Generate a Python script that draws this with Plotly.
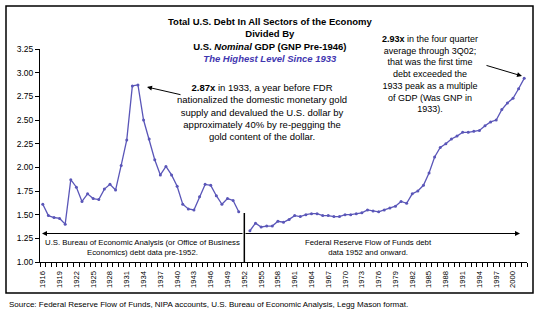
import plotly.graph_objects as go

# ---- data ----
years_bea = list(range(1916, 1952))
ratio_bea = [1.61, 1.49, 1.47, 1.46, 1.40, 1.87, 1.79, 1.64, 1.72, 1.67,
             1.66, 1.77, 1.82, 1.76, 2.02, 2.29, 2.86, 2.87, 2.50, 2.30,
             2.08, 1.92, 2.01, 1.92, 1.80, 1.61, 1.56, 1.55, 1.69, 1.82,
             1.81, 1.70, 1.61, 1.67, 1.65, 1.53]
years_fof = list(range(1953, 2003))
ratio_fof = [1.33, 1.41, 1.37, 1.38, 1.38, 1.43, 1.42, 1.45, 1.49, 1.48,
             1.50, 1.51, 1.51, 1.49, 1.49, 1.48, 1.48, 1.50, 1.50, 1.51,
             1.52, 1.55, 1.54, 1.53, 1.55, 1.57, 1.59, 1.64, 1.62, 1.72,
             1.75, 1.81, 1.94, 2.11, 2.21, 2.25, 2.30, 2.33, 2.37, 2.37,
             2.38, 2.39, 2.44, 2.48, 2.50, 2.61, 2.68, 2.73, 2.83, 2.94]
assert len(years_bea) == len(ratio_bea) and len(years_fof) == len(ratio_fof)
y_ticks = [1.00, 1.25, 1.50, 1.75, 2.00, 2.25, 2.50, 2.75, 3.00, 3.25]
x_label_years = list(range(1916, 2001, 3))
split_year = 1952

W, H = 541, 319
L, R, T, B = 40, 527, 49, 262
FONT = "Arial, Liberation Sans, sans-serif"
LINE_C = "#5a56b8"


def xp(px):
    return (px - L) / (R - L)


def yp(py):
    return (B - py) / (B - T)


fig = go.Figure()
for xs, ys in [(years_bea, ratio_bea), (years_fof, ratio_fof)]:
    fig.add_trace(go.Scatter(x=xs, y=ys, mode="lines+markers",
                             line=dict(color=LINE_C, width=1.3),
                             marker=dict(size=3, color=LINE_C),
                             showlegend=False, hoverinfo="skip"))

ann = []
ann.append(dict(xref="paper", yref="paper", x=xp(270), y=yp(40),
                xanchor="center", yanchor="middle", showarrow=False,
                font=dict(family=FONT, size=9.5, color="black"),
                text="<b>Total U.S. Debt In All Sectors of the Economy</b><br>"
                     "<b>Divided By</b><br>"
                     "<b>U.S. <i>Nominal</i> GDP (GNP Pre-1946)</b><br>"
                     "<span style='color:#3f36b0'><b><i>The Highest Level Since 1933</i></b></span>"))
ann.append(dict(xref="paper", yref="paper", x=xp(262), y=yp(111.7),
                xanchor="center", yanchor="middle", showarrow=False,
                font=dict(family=FONT, size=9.5, color="black"),
                text="<b>2.87x</b> in 1933, a year before FDR<br>"
                     "nationalized the domestic monetary gold<br>"
                     "supply and devalued the U.S. dollar by<br>"
                     "approximately 40% by re-pegging the<br>"
                     "gold content of the dollar."))
ann.append(dict(xref="paper", yref="paper", x=xp(430), y=yp(74.2),
                xanchor="center", yanchor="middle", showarrow=False,
                font=dict(family=FONT, size=9, color="black"),
                text="<b>2.93x</b> in the four quarter<br>"
                     "average through 3Q02;<br>"
                     "that was the first time<br>"
                     "debt exceeded the<br>"
                     "1933 peak as a multiple<br>"
                     "of GDP (Was GNP in<br>"
                     "1933)."))
ann.append(dict(xref="paper", yref="paper", x=xp(142), y=yp(247),
                xanchor="center", yanchor="middle", showarrow=False,
                font=dict(family=FONT, size=7.8, color="black"),
                text="U.S. Bureau of Economic Analysis (or Office of Business<br>"
                     "Economics) debt data pre-1952."))
ann.append(dict(xref="paper", yref="paper", x=xp(368), y=yp(247),
                xanchor="center", yanchor="middle", showarrow=False,
                font=dict(family=FONT, size=7.8, color="black"),
                text="Federal Reserve Flow of Funds debt<br>"
                     "data 1952 and onward."))
ann.append(dict(xref="paper", yref="paper", x=xp(7), y=yp(304),
                xanchor="left", yanchor="middle", showarrow=False,
                font=dict(family=FONT, size=8, color="black"),
                text="Source: Federal Reserve Flow of Funds, NIPA accounts, "
                     "U.S. Bureau of Economic Analysis, Legg Mason format."))


def arrow(tip, tail):
    return dict(xref="paper", yref="paper", axref="pixel", ayref="pixel",
                x=xp(tip[0]), y=yp(tip[1]),
                ax=tail[0] - tip[0], ay=tail[1] - tip[1],
                text="", showarrow=True, arrowhead=2, arrowsize=1,
                arrowwidth=1, arrowcolor="black", standoff=0, startstandoff=0)


ann.append(arrow((147, 87), (182, 95)))
ann.append(arrow((522, 76), (485, 65)))
ann.append(arrow((42, 233.5), (244, 233.5)))
ann.append(arrow((520, 233.5), (244, 233.5)))

shapes = [
    dict(type="rect", xref="paper", yref="paper", x0=xp(6), x1=xp(533),
         y0=yp(293), y1=yp(6), line=dict(color="black", width=1.5)),
    dict(type="line", xref="x", yref="paper", x0=split_year, x1=split_year,
         y0=0, y1=yp(213), line=dict(color="black", width=1.5)),
]

fig.update_layout(
    width=W, height=H,
    margin=dict(l=L, r=W - R, t=T, b=H - B),
    paper_bgcolor="white", plot_bgcolor="white",
    font=dict(family=FONT, color="black"),
    annotations=ann, shapes=shapes,
    xaxis=dict(range=[1915.5, 2002.5], tickmode="array",
               tickvals=x_label_years, ticktext=[str(y) for y in x_label_years],
               tickangle=-90, ticks="", tickfont=dict(size=7.6),
               ticklabelstandoff=5,
               showgrid=False, zeroline=False, showline=True,
               linecolor="black", linewidth=1,
               minor=dict(tickmode="array",
                          tickvals=[y - 0.5 for y in range(1916, 2004)],
                          ticks="outside", ticklen=4, tickcolor="black",
                          showgrid=False)),
    yaxis=dict(range=[1.0, 3.25], tickmode="array", tickvals=y_ticks,
               ticktext=[f"{v:.2f}" for v in y_ticks],
               ticks="outside", ticklen=4, tickcolor="black",
               tickfont=dict(size=8.5),
               showgrid=False, zeroline=False, showline=True,
               linecolor="black", linewidth=1),
)

fig.write_html("out.html")
